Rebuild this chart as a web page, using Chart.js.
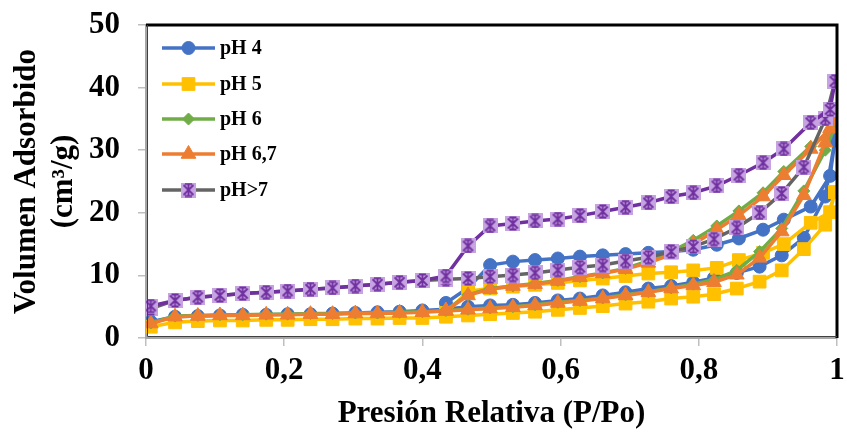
<!DOCTYPE html>
<html>
<head>
<meta charset="utf-8">
<script src="https://cdn.jsdelivr.net/npm/chart.js@4.4.1/dist/chart.umd.min.js"></script>
<style>
  html, body { margin: 0; padding: 0; background: #fff; }
</style>
</head>
<body>
<canvas id="isoChart" width="847" height="434"></canvas>
<script>
// relative pressure, adsorption branch and desorption branch
const P_ADS = [0.007, 0.042, 0.075, 0.107, 0.140, 0.174, 0.205, 0.238, 0.270, 0.303, 0.335, 0.367, 0.400,
               0.434, 0.466, 0.498, 0.531, 0.563, 0.596, 0.628, 0.661, 0.694, 0.727, 0.760, 0.792,
               0.822, 0.855, 0.888, 0.920, 0.952, 0.983, 0.997];
const P_DES = [0.997, 0.990, 0.962, 0.923, 0.893, 0.858, 0.826, 0.792, 0.760, 0.727, 0.694, 0.661,
               0.628, 0.596, 0.563, 0.531, 0.498, 0.466, 0.434];
const P_DES_LOW = [0.400, 0.367, 0.335, 0.303, 0.270, 0.238, 0.205, 0.174, 0.140, 0.107, 0.075, 0.042, 0.007];

const PH4_ADS  = [2.6, 3.4, 3.5, 3.6, 3.7, 3.7, 3.8, 3.8, 3.9, 4.0, 4.1, 4.2, 4.4, 4.6, 5.0, 5.2, 5.3, 5.6,
                  6.0, 6.3, 6.8, 7.3, 7.9, 8.3, 8.9, 9.6, 10.4, 11.4, 13.2, 16.0, 22.6, 31.6];
const PH4_DES  = [31.6, 25.9, 21.0, 18.9, 17.3, 15.9, 14.9, 14.1, 13.8, 13.6, 13.4, 13.2, 13.0, 12.7,
                  12.45, 12.2, 11.65, 8.0, 5.6];
const PH5_ADS  = [1.8, 2.5, 2.7, 2.8, 2.8, 2.9, 2.9, 3.0, 3.0, 3.1, 3.1, 3.2, 3.2, 3.4, 3.6, 3.8, 4.0, 4.2,
                  4.5, 4.8, 5.1, 5.5, 5.8, 6.3, 6.6, 7.0, 7.9, 9.0, 10.8, 14.2, 18.1, 23.3];
const PH5_DES  = [23.3, 20.1, 18.4, 15.0, 13.6, 12.45, 11.2, 10.8, 10.5, 10.3, 9.9, 9.5, 9.2, 8.8, 8.5,
                  8.2, 7.9, 7.5, 4.0];
const PH6_ADS  = [2.4, 3.5, 3.6, 3.7, 3.7, 3.8, 3.8, 3.9, 3.9, 4.0, 4.0, 4.1, 4.2, 4.4, 4.6, 4.8, 5.0, 5.3,
                  5.7, 6.0, 6.4, 6.9, 7.4, 8.0, 8.6, 9.3, 10.8, 13.8, 17.5, 23.5, 30.0, 33.8];
const PH6_DES  = [33.8, 33.0, 30.6, 26.6, 23.2, 20.3, 17.9, 15.6, 13.8, 12.3, 11.1, 10.4, 9.8, 9.2, 8.7,
                  8.3, 7.9, 6.9, 4.5];
const PH67_ADS = [2.3, 3.4, 3.5, 3.6, 3.6, 3.7, 3.7, 3.8, 3.8, 3.9, 3.9, 4.0, 4.1, 4.3, 4.5, 4.7, 4.9, 5.2,
                  5.6, 5.9, 6.3, 6.8, 7.3, 7.9, 8.4, 8.9, 10.1, 12.8, 17.0, 22.8, 31.2, 34.8];
const PH67_DES = [34.8, 33.5, 30.2, 26.0, 22.6, 19.6, 17.3, 15.0, 13.3, 12.0, 11.0, 10.3, 9.7, 9.1, 8.6,
                  8.3, 7.8, 6.8, 4.4];
const PH7_ADS  = [4.7, 6.0, 6.5, 6.8, 7.1, 7.3, 7.5, 7.8, 8.0, 8.3, 8.6, 8.9, 9.2, 9.4, 9.5, 9.8, 10.05,
                  10.4, 10.85, 11.3, 11.65, 12.3, 12.9, 13.8, 14.6, 15.8, 17.6, 20.0, 23.1, 27.3, 35.0, 41.0];
const PH7_DES  = [41.0, 36.5, 34.4, 30.2, 28.0, 26.0, 24.3, 23.2, 22.6, 21.6, 20.9, 20.2, 19.55, 19.0,
                  18.7, 18.3, 17.9, 14.7, 9.9,
                  9.2, 8.9, 8.6, 8.3, 8.0, 7.8, 7.5, 7.3, 7.1, 6.8, 6.5, 6.0, 5.1];

const LABELS = ['pH 4', 'pH 5', 'pH 6', 'pH 6,7', 'pH>7'];

const FONT = "'Liberation Serif', 'Times New Roman', serif";

const pts = (xs, ys) => ys.map((y, i) => ({ x: xs[i], y }));

function starMarker() {
    const c = document.createElement('canvas');
    c.width = 15; c.height = 15;
    const g = c.getContext('2d');
    g.fillStyle = '#c7a3e2';
    g.fillRect(0, 0, 15, 15);
    g.strokeStyle = '#7030a0';
    g.lineWidth = 1.8;
    g.beginPath();
    g.moveTo(7.5, 1.5); g.lineTo(7.5, 13.5);
    g.moveTo(2.5, 2.5); g.lineTo(12.5, 12.5);
    g.moveTo(12.5, 2.5); g.lineTo(2.5, 12.5);
    g.moveTo(4, 1.5); g.lineTo(11, 1.5);
    g.moveTo(4, 13.5); g.lineTo(11, 13.5);
    g.stroke();
    return c;
}
const STAR = starMarker();

const datasets = [
    { label: LABELS[0], data: pts(P_ADS, PH4_ADS).concat(pts(P_DES, PH4_DES)),
      borderColor: '#4472c4', backgroundColor: '#4472c4', pointStyle: 'circle', pointRadius: 6.5, order: 6 },
    { label: LABELS[1], data: pts(P_ADS, PH5_ADS).concat(pts(P_DES, PH5_DES)),
      borderColor: '#ffc000', backgroundColor: '#ffc000', pointStyle: 'rect', pointRadius: 9, order: 5 },
    { label: LABELS[2], data: pts(P_ADS, PH6_ADS).concat(pts(P_DES, PH6_DES)),
      borderColor: '#70ad47', backgroundColor: '#70ad47', pointStyle: 'rectRot', pointRadius: 6, order: 4 },
    { label: LABELS[3], data: pts(P_ADS, PH67_ADS).concat(pts(P_DES, PH67_DES)),
      borderColor: '#ed7d31', backgroundColor: '#ed7d31', pointStyle: 'triangle', pointRadius: 8.5, order: 3 },
    { label: LABELS[4], data: pts(P_ADS, PH7_ADS),
      borderColor: '#646464', backgroundColor: '#c7a3e2', pointStyle: STAR, pointRadius: 7, order: 2 },
    { label: 'pH>7 des', data: pts(P_DES.concat(P_DES_LOW), PH7_DES), hideInLegend: true,
      borderColor: '#7030a0', backgroundColor: '#c7a3e2', pointStyle: STAR, pointRadius: 7, order: 1 },
];
datasets.forEach(d => {
    d.showLine = true;
    d.borderWidth = 3.5;
    d.pointBorderWidth = 1;
    d.pointBorderColor = d.backgroundColor;
    d.tension = 0;
});

const framePlugin = {
    id: 'frame',
    afterDraw(chart) {
        const { ctx, chartArea: a } = chart;
        ctx.save();
        ctx.strokeStyle = '#000';
        ctx.lineWidth = 3;
        ctx.beginPath();
        ctx.moveTo(a.left, a.top);
        ctx.lineTo(a.right, a.top);
        ctx.lineTo(a.right, a.bottom);
        ctx.stroke();
        ctx.lineWidth = 1;
        ctx.strokeStyle = '#404040';
        ctx.beginPath();
        ctx.moveTo(a.left + 1.5, a.top);
        ctx.lineTo(a.left + 1.5, a.bottom - 1.5);
        ctx.lineTo(a.right, a.bottom - 1.5);
        ctx.stroke();

        // legend inside the plot
        const x0 = 162, x1 = 215, ys = [48, 84, 119, 154, 190];
        chart.data.datasets.filter(d => !d.hideInLegend).forEach((d, i) => {
            const y = ys[i];
            ctx.strokeStyle = d.borderColor;
            ctx.lineWidth = 3.5;
            ctx.beginPath();
            ctx.moveTo(x0, y);
            ctx.lineTo(x1, y);
            ctx.stroke();
            ctx.fillStyle = d.backgroundColor;
            ctx.strokeStyle = d.backgroundColor;
            ctx.lineWidth = 1;
            Chart.helpers.drawPoint(ctx, { pointStyle: d.pointStyle, radius: d.pointRadius, rotation: 0, borderWidth: 1 }, (x0 + x1) / 2, y);
            ctx.fillStyle = '#000';
            ctx.font = 'bold 20px ' + FONT;
            ctx.textBaseline = 'middle';
            ctx.textAlign = 'left';
            ctx.fillText(d.label, 220, y + 1);
        });
        ctx.restore();
    }
};

new Chart(document.getElementById('isoChart'), {
    type: 'scatter',
    data: { datasets },
    options: {
        responsive: false,
        animation: false,
        layout: { padding: { top: 25, right: 7, left: 0, bottom: 0 } },
        plugins: {
            legend: { display: false },
            tooltip: { enabled: false },
        },
        scales: {
            x: {
                type: 'linear',
                min: 0,
                max: 1,
                afterFit: s => {
                    s.height = 96;
                    s.paddingLeft = 0;
                    s.paddingRight = 0;
                },
                ticks: {
                    stepSize: 0.2,
                    color: '#000',
                    padding: 6,
                    font: { family: FONT, size: 31, weight: 'bold' },
                    callback: v => (Math.round(v * 10) / 10).toString().replace('.', ','),
                },
                grid: { drawOnChartArea: false, drawTicks: true, tickLength: 8, color: '#bfbfbf', lineWidth: 1.5 },
                border: { display: true, color: '#a6a6a6', width: 2 },
                title: {
                    display: true,
                    text: 'Presión Relativa (P/Po)',
                    color: '#000',
                    font: { family: FONT, size: 31, weight: 'bold' },
                    padding: { top: 0, bottom: 1 },
                },
            },
            y: {
                min: 0,
                max: 50,
                afterFit: s => {
                    s.width = 146;
                    s.paddingTop = 0;
                    s.paddingBottom = 0;
                },
                ticks: {
                    stepSize: 10,
                    color: '#000',
                    padding: 18,
                    font: { family: FONT, size: 31, weight: 'bold' },
                },
                grid: { drawOnChartArea: false, drawTicks: true, tickLength: 8, color: '#bfbfbf', lineWidth: 1.5 },
                border: { display: true, color: '#a6a6a6', width: 2 },
                title: {
                    display: true,
                    text: ['Volumen Adsorbido', '(cm³/g)'],
                    color: '#000',
                    font: { family: FONT, size: 31, weight: 'bold', lineHeight: 1.2 },
                    padding: { top: 8, bottom: 0 },
                },
            },
        },
    },
    plugins: [framePlugin],
});
</script>
</body>
</html>
